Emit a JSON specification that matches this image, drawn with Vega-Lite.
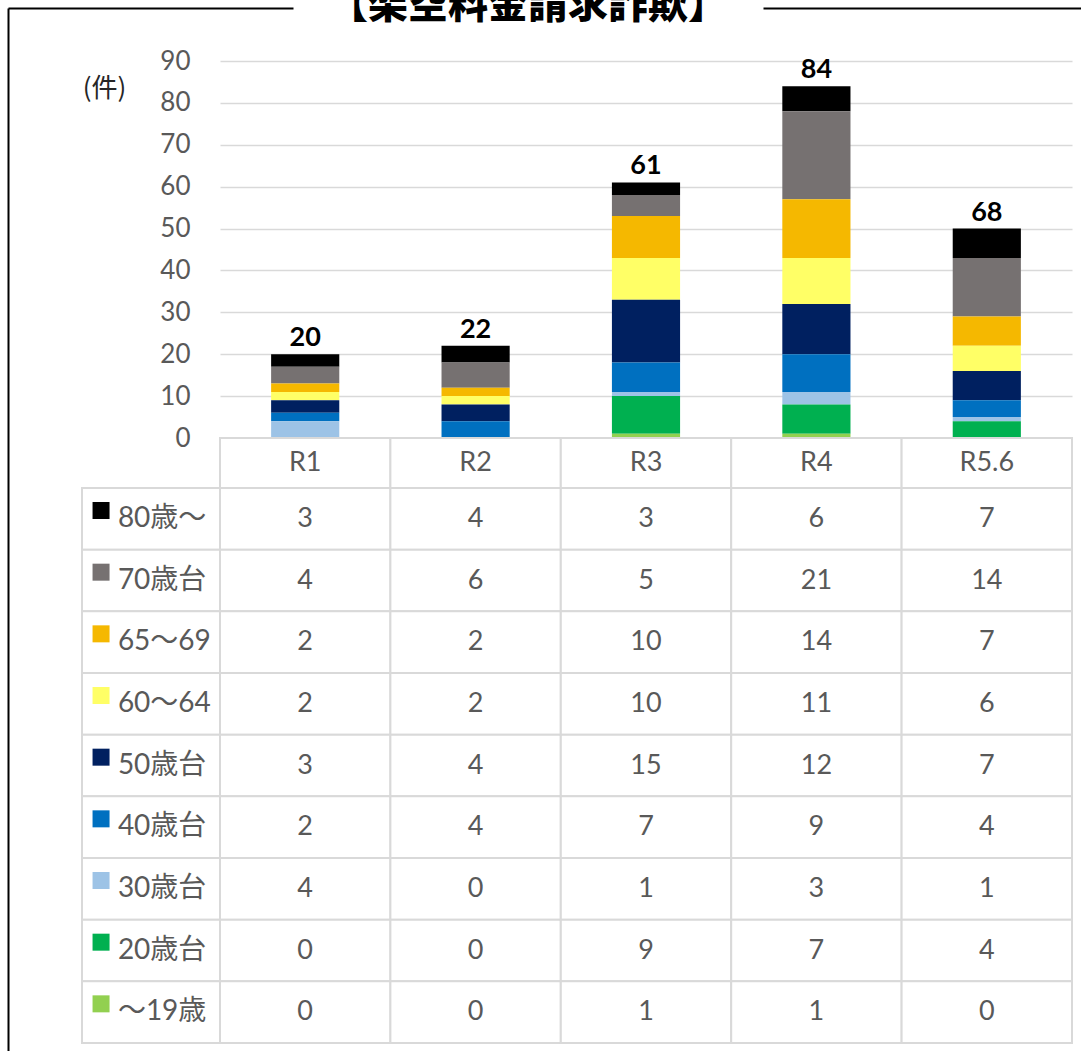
{
  "$schema": "https://vega.github.io/schema/vega-lite/v6.json",
  "width": 852,
  "height": 377,
  "autosize": {"type": "none"},
  "padding": {"left": 220, "top": 61, "right": 9, "bottom": 613},
  "background": "white",
  "config": {"view": {"stroke": null}},
  "datasets": {
    "counts": [
      {"cat": "R1", "age": "80歳〜", "n": 3, "k": 1},
      {"cat": "R1", "age": "70歳台", "n": 4, "k": 2},
      {"cat": "R1", "age": "65〜69", "n": 2, "k": 3},
      {"cat": "R1", "age": "60〜64", "n": 2, "k": 4},
      {"cat": "R1", "age": "50歳台", "n": 3, "k": 5},
      {"cat": "R1", "age": "40歳台", "n": 2, "k": 6},
      {"cat": "R1", "age": "30歳台", "n": 4, "k": 7},
      {"cat": "R1", "age": "20歳台", "n": 0, "k": 8},
      {"cat": "R1", "age": "〜19歳", "n": 0, "k": 9},
      {"cat": "R2", "age": "80歳〜", "n": 4, "k": 1},
      {"cat": "R2", "age": "70歳台", "n": 6, "k": 2},
      {"cat": "R2", "age": "65〜69", "n": 2, "k": 3},
      {"cat": "R2", "age": "60〜64", "n": 2, "k": 4},
      {"cat": "R2", "age": "50歳台", "n": 4, "k": 5},
      {"cat": "R2", "age": "40歳台", "n": 4, "k": 6},
      {"cat": "R2", "age": "30歳台", "n": 0, "k": 7},
      {"cat": "R2", "age": "20歳台", "n": 0, "k": 8},
      {"cat": "R2", "age": "〜19歳", "n": 0, "k": 9},
      {"cat": "R3", "age": "80歳〜", "n": 3, "k": 1},
      {"cat": "R3", "age": "70歳台", "n": 5, "k": 2},
      {"cat": "R3", "age": "65〜69", "n": 10, "k": 3},
      {"cat": "R3", "age": "60〜64", "n": 10, "k": 4},
      {"cat": "R3", "age": "50歳台", "n": 15, "k": 5},
      {"cat": "R3", "age": "40歳台", "n": 7, "k": 6},
      {"cat": "R3", "age": "30歳台", "n": 1, "k": 7},
      {"cat": "R3", "age": "20歳台", "n": 9, "k": 8},
      {"cat": "R3", "age": "〜19歳", "n": 1, "k": 9},
      {"cat": "R4", "age": "80歳〜", "n": 6, "k": 1},
      {"cat": "R4", "age": "70歳台", "n": 21, "k": 2},
      {"cat": "R4", "age": "65〜69", "n": 14, "k": 3},
      {"cat": "R4", "age": "60〜64", "n": 11, "k": 4},
      {"cat": "R4", "age": "50歳台", "n": 12, "k": 5},
      {"cat": "R4", "age": "40歳台", "n": 9, "k": 6},
      {"cat": "R4", "age": "30歳台", "n": 3, "k": 7},
      {"cat": "R4", "age": "20歳台", "n": 7, "k": 8},
      {"cat": "R4", "age": "〜19歳", "n": 1, "k": 9},
      {"cat": "R5.6", "age": "80歳〜", "n": 7, "k": 1},
      {"cat": "R5.6", "age": "70歳台", "n": 14, "k": 2},
      {"cat": "R5.6", "age": "65〜69", "n": 7, "k": 3},
      {"cat": "R5.6", "age": "60〜64", "n": 6, "k": 4},
      {"cat": "R5.6", "age": "50歳台", "n": 7, "k": 5},
      {"cat": "R5.6", "age": "40歳台", "n": 4, "k": 6},
      {"cat": "R5.6", "age": "30歳台", "n": 1, "k": 7},
      {"cat": "R5.6", "age": "20歳台", "n": 4, "k": 8},
      {"cat": "R5.6", "age": "〜19歳", "n": 0, "k": 9}
    ],
    "totals": [
      {"cat": "R1", "top": 20, "label": "20"},
      {"cat": "R2", "top": 22, "label": "22"},
      {"cat": "R3", "top": 61, "label": "61"},
      {"cat": "R4", "top": 84, "label": "84"},
      {"cat": "R5.6", "top": 50, "label": "68"}
    ],
    "heading": [{"t": "【架空料金請求詐欺】"}]
  },
  "resolve": {"scale": {"x": "independent", "y": "independent"}},
  "layer": [
    {
      "layer": [
        {
          "data": {"name": "counts"},
          "mark": {"type": "bar"},
          "encoding": {
            "x": {"field": "cat", "type": "nominal", "scale": {"type": "band", "domain": ["R1", "R2", "R3", "R4", "R5.6"], "paddingInner": 0.6, "paddingOuter": 0.3}, "axis": null},
            "y": {"field": "n", "type": "quantitative", "stack": "zero", "scale": {"domain": [0, 90], "nice": false, "zero": true},
              "axis": {"orient": "left", "values": [0, 10, 20, 30, 40, 50, 60, 70, 80, 90], "domain": false, "ticks": false, "labelPadding": 30, "labelFont": "Lato", "labelFontSize": 26, "labelColor": "#595959", "grid": true, "gridColor": "#D9D9D9", "gridWidth": 1.5,
                "title": "(件)", "titleAngle": 0, "titleX": -116, "titleY": 27, "titleAlign": "center", "titleBaseline": "middle", "titleFont": "Noto Sans CJK JP", "titleFontSize": 26, "titleFontWeight": "normal", "titleColor": "#262626"}},
            "color": {"field": "age", "type": "nominal",
              "scale": {"domain": ["80歳〜", "70歳台", "65〜69", "60〜64", "50歳台", "40歳台", "30歳台", "20歳台", "〜19歳"],
                        "range": ["#000000", "#767171", "#F5B800", "#FFFF66", "#002060", "#0070C0", "#9DC3E6", "#00B050", "#92D050"]},
              "legend": null},
            "order": {"field": "k", "type": "quantitative", "sort": "descending"}
          }
        },
        {
          "data": {"name": "totals"},
          "mark": {"type": "text", "font": "Lato", "fontSize": 27, "fontWeight": "bold", "color": "#000000", "baseline": "alphabetic", "dy": -8},
          "encoding": {
            "x": {"field": "cat", "type": "nominal", "scale": {"type": "band", "domain": ["R1", "R2", "R3", "R4", "R5.6"], "paddingInner": 0.6, "paddingOuter": 0.3}, "axis": null},
            "y": {"field": "top", "type": "quantitative"},
            "text": {"field": "label"}
          }
        }
      ]
    },
    {
      "data": {"name": "totals"},
      "layer": [
        {
          "mark": {"type": "rect", "fill": "white", "stroke": "#D9D9D9", "strokeWidth": 2},
          "encoding": {
            "x": {"field": "cat", "type": "nominal", "scale": {"type": "band", "domain": ["R1", "R2", "R3", "R4", "R5.6"], "paddingInner": 0, "paddingOuter": 0}, "axis": null},
            "y": {"datum": "head", "type": "nominal", "scale": {"type": "band", "domain": ["head"], "range": [377, 427], "paddingInner": 0, "paddingOuter": 0}, "axis": null}
          }
        },
        {
          "mark": {"type": "text", "font": "Lato", "fontSize": 27, "color": "#595959"},
          "encoding": {
            "x": {"field": "cat", "type": "nominal", "scale": {"type": "band", "domain": ["R1", "R2", "R3", "R4", "R5.6"], "paddingInner": 0, "paddingOuter": 0}, "axis": null},
            "y": {"datum": "head", "type": "nominal", "scale": {"type": "band", "domain": ["head"], "range": [377, 427], "paddingInner": 0, "paddingOuter": 0}, "axis": null},
            "text": {"field": "cat"}
          }
        }
      ]
    },
    {
      "data": {"name": "counts"},
      "layer": [
        {
          "mark": {"type": "rect", "fill": "white", "stroke": "#D9D9D9", "strokeWidth": 2},
          "encoding": {
            "x": {"field": "cat", "type": "nominal", "scale": {"type": "band", "domain": ["R1", "R2", "R3", "R4", "R5.6"], "paddingInner": 0, "paddingOuter": 0}, "axis": null},
            "y": {"field": "age", "type": "nominal", "scale": {"type": "band", "domain": ["80歳〜", "70歳台", "65〜69", "60〜64", "50歳台", "40歳台", "30歳台", "20歳台", "〜19歳"], "range": [427, 982], "paddingInner": 0, "paddingOuter": 0}, "axis": null}
          }
        },
        {
          "mark": {"type": "text", "font": "Lato", "fontSize": 27, "color": "#595959"},
          "encoding": {
            "x": {"field": "cat", "type": "nominal", "scale": {"type": "band", "domain": ["R1", "R2", "R3", "R4", "R5.6"], "paddingInner": 0, "paddingOuter": 0}, "axis": null},
            "y": {"field": "age", "type": "nominal", "scale": {"type": "band", "domain": ["80歳〜", "70歳台", "65〜69", "60〜64", "50歳台", "40歳台", "30歳台", "20歳台", "〜19歳"], "range": [427, 982], "paddingInner": 0, "paddingOuter": 0}, "axis": null},
            "text": {"field": "n", "type": "quantitative"}
          }
        }
      ]
    },
    {
      "data": {"name": "counts"},
      "transform": [{"filter": "datum.cat === 'R1'"}],
      "layer": [
        {
          "mark": {"type": "rect", "fill": "white", "stroke": "#D9D9D9", "strokeWidth": 2},
          "encoding": {
            "x": {"datum": "legend", "type": "nominal", "scale": {"type": "band", "domain": ["legend"], "range": [-138, 0], "paddingInner": 0, "paddingOuter": 0}, "axis": null},
            "y": {"field": "age", "type": "nominal", "scale": {"type": "band", "domain": ["80歳〜", "70歳台", "65〜69", "60〜64", "50歳台", "40歳台", "30歳台", "20歳台", "〜19歳"], "range": [427, 982], "paddingInner": 0, "paddingOuter": 0}, "axis": null}
          }
        },
        {
          "mark": {"type": "square", "size": 289, "filled": true, "opacity": 1},
          "encoding": {
            "x": {"datum": "legend", "type": "nominal", "bandPosition": 0.138, "scale": {"type": "band", "domain": ["legend"], "range": [-138, 0], "paddingInner": 0, "paddingOuter": 0}, "axis": null},
            "y": {"field": "age", "type": "nominal", "bandPosition": 0.365, "scale": {"type": "band", "domain": ["80歳〜", "70歳台", "65〜69", "60〜64", "50歳台", "40歳台", "30歳台", "20歳台", "〜19歳"], "range": [427, 982], "paddingInner": 0, "paddingOuter": 0}, "axis": null},
            "color": {"field": "age", "type": "nominal", "legend": null}
          }
        },
        {
          "mark": {"type": "text", "font": "Lato, 'Noto Sans CJK JP', sans-serif", "fontSize": 28, "color": "#595959", "align": "left", "baseline": "middle"},
          "encoding": {
            "x": {"datum": "legend", "type": "nominal", "bandPosition": 0.26, "scale": {"type": "band", "domain": ["legend"], "range": [-138, 0], "paddingInner": 0, "paddingOuter": 0}, "axis": null},
            "y": {"field": "age", "type": "nominal", "scale": {"type": "band", "domain": ["80歳〜", "70歳台", "65〜69", "60〜64", "50歳台", "40歳台", "30歳台", "20歳台", "〜19歳"], "range": [427, 982], "paddingInner": 0, "paddingOuter": 0}, "axis": null},
            "text": {"field": "age"}
          }
        }
      ]
    },
    {
      "data": {"name": "heading"},
      "mark": {"type": "point", "opacity": 0},
      "encoding": {
        "x": {"datum": 0, "type": "quantitative", "scale": {"domain": [0, 1], "range": [-212, 73], "nice": false, "zero": false},
          "axis": {"orient": "top", "offset": 53, "labels": false, "ticks": false, "grid": false, "title": null, "domain": true, "domainColor": "#000000", "domainWidth": 2}},
        "y": {"datum": 0, "type": "quantitative", "scale": {"domain": [0, 1], "range": [990, -53], "nice": false, "zero": false},
          "axis": {"orient": "left", "offset": 212, "labels": false, "ticks": false, "grid": false, "title": null, "domain": true, "domainColor": "#000000", "domainWidth": 2}}
      }
    },
    {
      "data": {"name": "heading"},
      "mark": {"type": "point", "opacity": 0},
      "encoding": {
        "x": {"datum": 0, "type": "quantitative", "scale": {"domain": [0, 1], "range": [543, 861], "nice": false, "zero": false},
          "axis": {"orient": "top", "offset": 53, "labels": false, "ticks": false, "grid": false, "title": null, "domain": true, "domainColor": "#000000", "domainWidth": 2}}
      }
    },
    {
      "data": {"name": "heading"},
      "mark": {"type": "text", "font": "Noto Sans CJK JP", "fontSize": 40, "fontWeight": 900, "color": "#000000", "baseline": "middle"},
      "encoding": {
        "x": {"field": "t", "type": "nominal", "scale": {"type": "point", "range": [73, 543]}, "axis": null},
        "y": {"field": "t", "type": "nominal", "scale": {"type": "point", "range": [-67, -43]}, "axis": null},
        "text": {"field": "t"}
      }
    }
  ]
}
